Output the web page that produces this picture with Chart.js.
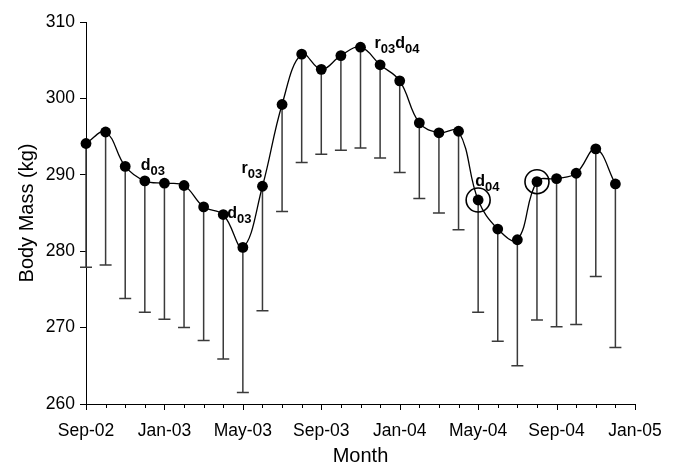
<!DOCTYPE html>
<html>
<head>
<meta charset="utf-8">
<title>Body Mass</title>
<script src="https://cdn.jsdelivr.net/npm/chart.js@4.4.1/dist/chart.umd.min.js"></script>
<style>
  body { margin: 0; background: #fff; }
  canvas { display: block; }
</style>
</head>
<body>
<canvas id="myChart" width="678" height="467"></canvas>
<script>
// Data
const months = ['Sep-02', 'Oct-02', 'Nov-02', 'Dec-02', 'Jan-03', 'Feb-03', 'Mar-03', 'Apr-03',
    'May-03', 'Jun-03', 'Jul-03', 'Aug-03', 'Sep-03', 'Oct-03', 'Nov-03', 'Dec-03', 'Jan-04',
    'Feb-04', 'Mar-04', 'Apr-04', 'May-04', 'Jun-04', 'Jul-04', 'Aug-04', 'Sep-04', 'Oct-04',
    'Nov-04', 'Dec-04'];
const bodyMass = [294.1, 295.6, 291.1, 289.2, 288.9, 288.6, 285.8, 284.8, 280.5, 288.5, 299.2,
    305.8, 303.8, 305.6, 306.7, 304.4, 302.3, 296.8, 295.5, 295.7, 286.7, 282.9, 281.5, 289.1,
    289.5, 290.2, 293.4, 288.8];
const lowerBound = [277.9, 278.2, 273.8, 272.0, 271.1, 270.0, 268.3, 265.9, 261.5, 272.2, 285.2,
    291.6, 292.7, 293.2, 293.5, 292.2, 290.3, 286.9, 285.0, 282.8, 272.0, 268.2, 265.0, 271.0,
    270.1, 270.4, 276.7, 267.4];
const tickLabels = ['Sep-02', 'Jan-03', 'May-03', 'Sep-03', 'Jan-04', 'May-04', 'Sep-04', 'Jan-05'];
const yMin = 260;
const yMax = 310;

// Labels next to points (d = dispersal, r = return)
const notes = [
    { month: 'Dec-02', text: [['d', '03']] },
    { month: 'Apr-03', text: [['d', '03']] },
    { month: 'Jun-03', text: [['r', '03']] },
    { month: 'Nov-03', text: [['r', '03'], ['d', '04']] },
    { month: 'May-04', text: [['d', '04']] }
];
const circled = ['May-04', 'Aug-04'];

// label offsets from the point (px)
const noteOffset = {
    'Dec-02': [-4, -11],
    'Apr-03': [4, 3],
    'Jun-03': [-21, -13],
    'Nov-03': [14, 1],
    'May-04': [-3, -14]
};

const FONT = '"Liberation Sans", Arial, Helvetica, sans-serif';

function drawNote(ctx, x0, y0, parts) {
    let cx = x0;
    parts.forEach(([main, sub]) => {
        ctx.font = 'bold 16px ' + FONT;
        ctx.fillText(main, cx, y0);
        cx += ctx.measureText(main).width;
        ctx.font = 'bold 13px ' + FONT;
        ctx.fillText(sub, cx, y0 + 5);
        cx += ctx.measureText(sub).width;
    });
}

// error bars, x ticks, circles and labels
const extras = {
    id: 'extras',
    beforeDatasetsDraw(chart) {
        const { ctx, scales: { x, y } } = chart;
        ctx.save();
        ctx.strokeStyle = '#3a3a3a';
        ctx.lineWidth = 1.5;
        bodyMass.forEach((v, i) => {
            const px = x.getPixelForValue(i);
            const top = y.getPixelForValue(v);
            const bot = y.getPixelForValue(lowerBound[i]);
            ctx.beginPath();
            ctx.moveTo(px, top);
            ctx.lineTo(px, bot);
            ctx.moveTo(px - 6, bot);
            ctx.lineTo(px + 6, bot);
            ctx.stroke();
        });
        ctx.restore();
    },
    afterDraw(chart) {
        const { ctx, scales: { x, y } } = chart;
        ctx.save();

        // x axis ticks: long every 4 months, short every month
        ctx.strokeStyle = '#000';
        ctx.lineWidth = 1;
        const base = y.getPixelForValue(yMin);
        for (let m = 0; m <= (tickLabels.length - 1) * 4; m++) {
            const px = Math.round(x.getPixelForValue(m)) + 0.5;
            ctx.beginPath();
            ctx.moveTo(px, base);
            ctx.lineTo(px, base + (m % 4 === 0 ? 6 : 4));
            ctx.stroke();
        }

        // circles
        ctx.lineWidth = 1.6;
        circled.forEach(name => {
            const i = months.indexOf(name);
            ctx.beginPath();
            ctx.arc(x.getPixelForValue(i), y.getPixelForValue(bodyMass[i]), 12, 0, Math.PI * 2);
            ctx.stroke();
        });

        // labels
        ctx.fillStyle = '#000';
        ctx.textAlign = 'left';
        ctx.textBaseline = 'alphabetic';
        notes.forEach(n => {
            const i = months.indexOf(n.month);
            const off = noteOffset[n.month];
            drawNote(ctx, x.getPixelForValue(i) + off[0], y.getPixelForValue(bodyMass[i]) + off[1], n.text);
        });
        ctx.restore();
    }
};

new Chart(document.getElementById('myChart').getContext('2d'), {
    type: 'line',
    data: {
        datasets: [{
            label: 'Body Mass',
            data: bodyMass.map((v, i) => ({ x: i, y: v })),
            borderColor: '#000',
            borderWidth: 1.3,
            tension: 0.4,
            pointRadius: 5.4,
            pointHoverRadius: 5.4,
            pointBackgroundColor: '#000',
            pointBorderWidth: 0,
            clip: false
        }]
    },
    options: {
        responsive: false,
        animation: false,
        devicePixelRatio: 1,
        layout: { padding: { top: 22, right: 43, left: 0, bottom: 0 } },
        plugins: {
            legend: { display: false },
            tooltip: { enabled: false }
        },
        scales: {
            x: {
                type: 'linear',
                min: 0,
                max: (tickLabels.length - 1) * 4,
                grid: { display: false },
                border: { display: true, color: '#000', width: 1 },
                ticks: {
                    stepSize: 1,
                    autoSkip: false,
                    maxRotation: 0,
                    padding: 9,
                    color: '#000',
                    font: { family: FONT, size: 17.5 },
                    callback: (v) => (v % 4 === 0 ? tickLabels[v / 4] : '')
                },
                title: {
                    display: true,
                    text: 'Month',
                    color: '#000',
                    font: { family: FONT, size: 20, lineHeight: 1 },
                    padding: { top: 0, bottom: 1 }
                },
                afterFit: (scale) => { scale.height = 63; }
            },
            y: {
                min: yMin,
                max: yMax,
                grid: { drawOnChartArea: false, tickLength: 6, color: '#000' },
                border: { display: true, color: '#000', width: 1 },
                ticks: {
                    stepSize: 10,
                    padding: 5,
                    color: '#000',
                    font: { family: FONT, size: 17.5 }
                },
                title: {
                    display: true,
                    text: 'Body Mass (kg)',
                    color: '#000',
                    font: { family: FONT, size: 20, lineHeight: 1 },
                    padding: { top: 17, bottom: 0 }
                },
                afterFit: (scale) => { scale.width = 86; }
            }
        }
    },
    plugins: [extras]
});
</script>
</body>
</html>
